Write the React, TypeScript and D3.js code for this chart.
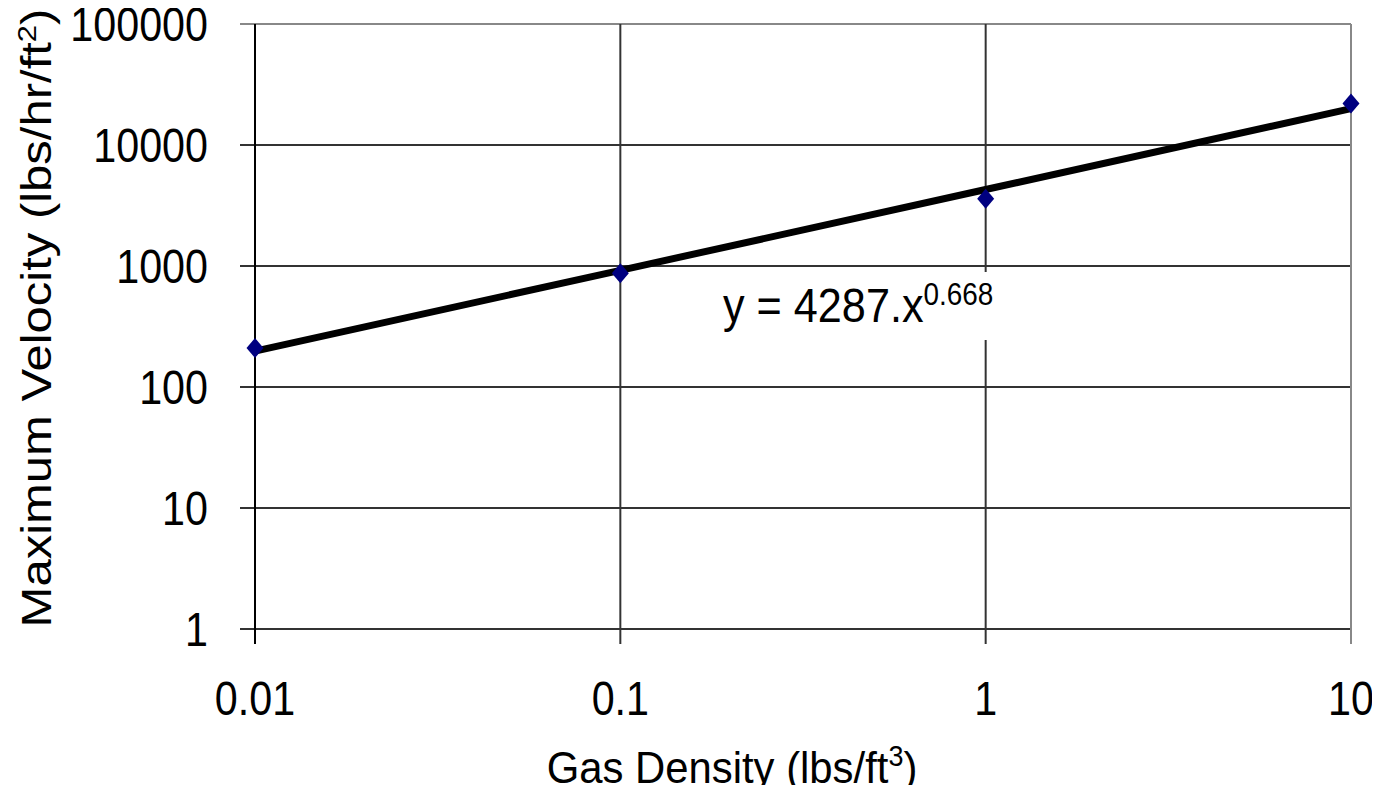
import React, { useEffect, useRef } from 'react';
import * as d3 from 'd3';

// measured points
const densities = [0.01, 0.1, 1, 10];
const velocities = [210, 870, 3600, 22000];

// axis ticks
const xTicks = [0.01, 0.1, 1, 10];
const yTicks = [1, 10, 100, 1000, 10000, 100000];

// power trend line y = a.x^b
const fitCoef = 4287;
const fitExp = 0.668;

const FONT = '"Liberation Sans", Arial, sans-serif';

function App() {
  const ref = useRef<SVGSVGElement>(null);

  useEffect(() => {
    const svg = d3.select(ref.current);
    svg.selectAll('*').remove();

    const left = 255;
    const right = 1351;
    const top = 24;
    const bottom = 629;

    const x = d3.scaleLog().domain([0.01, 10]).range([left, right]);
    const y = d3.scaleLog().domain([1, 100000]).range([bottom, top]);

    // text in the picture is squeezed horizontally, so pass a scale
    const text = (tf: string, str: string, size: number, anchor: string) =>
      svg
        .append('text')
        .attr('transform', tf)
        .attr('font-family', FONT)
        .attr('font-size', size)
        .attr('text-anchor', anchor)
        .attr('fill', '#000')
        .text(str);

    // horizontal grid + y ticks
    yTicks.forEach((t) => {
      svg
        .append('line')
        .attr('x1', left - 15)
        .attr('x2', right)
        .attr('y1', y(t))
        .attr('y2', y(t))
        .attr('stroke', t === 100000 ? '#888' : '#333')
        .attr('stroke-width', 2);
      text(`translate(208,${y(t) + 17}) scale(0.86,1)`, String(t), 48, 'end');
    });

    // vertical grid + x ticks
    xTicks.forEach((t) => {
      svg
        .append('line')
        .attr('x1', x(t))
        .attr('x2', x(t))
        .attr('y1', top)
        .attr('y2', bottom + 15)
        .attr('stroke', t === 10 ? '#888' : t === 0.01 ? '#000' : '#333')
        .attr('stroke-width', 2);
      text(`translate(${x(t)},715) scale(0.86,1)`, String(t), 48, 'middle');
    });

    // equation label box
    svg
      .append('rect')
      .attr('x', 712)
      .attr('y', 272)
      .attr('width', 292)
      .attr('height', 68)
      .attr('fill', '#fff');

    const eq = text('translate(723,322) scale(0.9,1)', 'y = 4287.x', 48, 'start');
    eq.append('tspan').attr('font-size', 31).attr('dy', -17).text(String(fitExp));

    // trend line
    const line = d3
      .line<number>()
      .x((d) => x(d))
      .y((d) => y(fitCoef * Math.pow(d, fitExp)));
    svg
      .append('path')
      .datum(densities)
      .attr('d', line)
      .attr('fill', 'none')
      .attr('stroke', '#000')
      .attr('stroke-width', 7);

    // data markers
    svg
      .selectAll('.pt')
      .data(densities)
      .enter()
      .append('path')
      .attr('class', 'pt')
      .attr('transform', (d, i) => `translate(${x(d)},${y(velocities[i])})`)
      .attr('d', 'M0,-10L8.5,0L0,10L-8.5,0Z')
      .attr('fill', '#000080');

    // axis titles
    const xt = text('translate(732,783) scale(0.93,1)', 'Gas Density (lbs/ft', 45, 'middle');
    xt.append('tspan').attr('font-size', 29).attr('dy', -17).text('3');
    xt.append('tspan').attr('dy', 17).text(')');

    const yt = text('translate(51,318) rotate(-90) scale(1,0.86)', 'Maximum Velocity (lbs/hr/ft', 49, 'middle');
    yt.append('tspan').attr('font-size', 31).attr('dy', -18).text('2');
    yt.append('tspan').attr('dy', 18).text(')');
  }, []);

  return <svg ref={ref} width={1380} height={793} style={{ display: 'block', margin: -8 }} />;
}

export default App;
